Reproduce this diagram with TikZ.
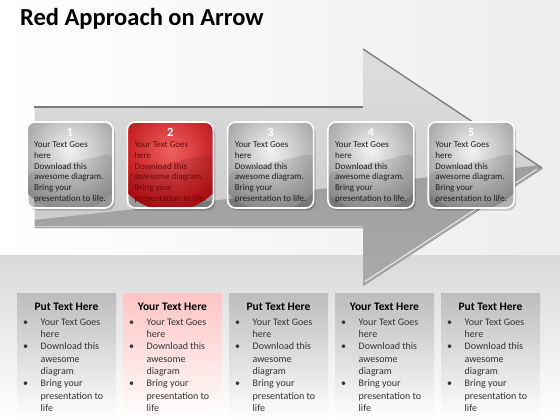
\documentclass[tikz,border=0pt]{standalone}
\usepackage{fontspec}
\setmainfont{Carlito}
\usetikzlibrary{calc}
\definecolor{bgtop}{HTML}{EDEDED}
\definecolor{bandtop}{HTML}{D9D9D9}
\definecolor{arrowhi}{HTML}{DEDEDE}
\definecolor{arrowlo}{HTML}{C6C6C6}
\definecolor{arrowdk}{HTML}{9E9E9E}
\definecolor{arrowdk2}{HTML}{ABABAB}
\definecolor{edgedk}{HTML}{7A7A7A}
\definecolor{grayin}{HTML}{F2F2F2}
\definecolor{grayout}{HTML}{969696}
\definecolor{redin}{HTML}{F06060}
\definecolor{redout}{HTML}{B80A10}
\definecolor{graytext}{HTML}{1E1E1E}
\definecolor{redtext}{HTML}{6A0808}
\definecolor{graytop}{HTML}{BDBDBD}
\definecolor{pinktop}{HTML}{FFC4C4}
\definecolor{listtext}{HTML}{333333}
\colorlet{ci}{grayin}\colorlet{co}{grayout}\colorlet{ct}{graytext}\colorlet{pt}{graytop}
\begin{document}
\begin{tikzpicture}[x=1pt,y=-1pt,
  card/.style={draw=white, line width=1.6pt, rounded corners=8pt,
    minimum width=86pt, minimum height=86pt, inner sep=0pt,
    path picture={
      \shade[inner color=ci, outer color=co]
        ([yshift=14pt]path picture bounding box.center) circle (60pt);
      \fill[black,opacity=.09]
        ([yshift=-8pt]path picture bounding box.west) --
        ([yshift=12pt]path picture bounding box.east) --
        (path picture bounding box.south east) --
        (path picture bounding box.south west) -- cycle;}},
  cardnum/.style={font=\bfseries\fontsize{12.5}{13}\selectfont, text=white, inner sep=0pt},
  cardtxt/.style={anchor=north west, inner sep=0pt, align=left, text=ct,
    font=\fontsize{9}{10.8}\selectfont},
  panel/.style={minimum width=99pt, minimum height=127pt, inner sep=0pt,
    top color=pt, bottom color=white},
  ptitle/.style={font=\bfseries\fontsize{11.5}{13}\selectfont, inner sep=0pt},
  plist/.style={anchor=north west, inner sep=0pt, text=listtext,
    font=\fontsize{10}{12.3}\selectfont}
]
\useasboundingbox (0,0) rectangle (560,420);
% background
\shade[left color=white, right color=bgtop] (0,0) rectangle (560,255);
\shade[top color=bandtop, bottom color=white] (0,255) rectangle (560,420);
% title
\node[anchor=base west, inner sep=0pt, font=\bfseries\fontsize{24.5}{28}\selectfont] (title) at (20,25.5) {Red Approach on Arrow};
% arrow
\def\arrowpath{(34,107) -- (363,107) -- (363,49) -- (542,168) -- (363,285) -- (363,228) -- (34,228) -- cycle}
\draw[edgedk!80, line width=2pt] (363,285) -- (542,168);
\shade[top color=arrowhi, bottom color=arrowlo] \arrowpath;
\begin{scope}
  \clip \arrowpath;
  \shade[top color=arrowdk, bottom color=arrowdk2] (0,223.7) -- (560,163) -- (560,300) -- (0,300) -- cycle;
\end{scope}
\draw[edgedk, line width=1.3pt] (34,107) -- (363,107);
\draw[edgedk, line width=1.3pt] (363,49) -- (542,168);
\draw[white, opacity=.6, line width=.8pt] (34,107.8) -- (34,228);
\draw[white, opacity=.8, line width=1pt] (365,281.5) -- (537,169);
\draw[white, opacity=.5, line width=1pt] (34,226.5) -- (363,226.5);
% cards
\foreach \i in {1,...,5} {
  \pgfmathsetmacro\cx{70+100.3*(\i-1)}
  \ifnum\i=2 \colorlet{ci}{redin}\colorlet{co}{redout}\colorlet{ct}{redtext}%
  \else \colorlet{ci}{grayin}\colorlet{co}{grayout}\colorlet{ct}{graytext}\fi
  \fill[black, opacity=.18, rounded corners=8pt] (\cx-41,124.5) rectangle ++(86,86);
  \node[card] (card\i) at (\cx,165) {};
  \node[cardnum] (num\i) at (\cx,132) {\i};
  \node[cardtxt] (txt\i) at (\cx-36,141.5) {Your Text Goes\\here\\Download this\\awesome diagram.\\Bring your\\presentation to life.};
}
% panels
\foreach \i/\t in {1/Put Text Here,2/Your Text Here,3/Put Text Here,4/Your Text Here,5/Put Text Here} {
  \pgfmathsetmacro\px{66.5+106*(\i-1)}
  \ifnum\i=2 \colorlet{pt}{pinktop}\else \colorlet{pt}{graytop}\fi
  \node[panel] (panel\i) at (\px,356.5) {};
  \node[ptitle] (ptitle\i) at (\px,307) {\t};
  \node[plist] (plist\i) at (\px-43.5,316.5) {\begin{tabular}{@{}p{17.5pt}@{}l@{}}
    •&Your Text Goes\\ &here\\ •&Download this\\ &awesome\\ &diagram\\
    •&Bring your\\ &presentation to\\ &life\end{tabular}};
}
\end{tikzpicture}
\end{document}
